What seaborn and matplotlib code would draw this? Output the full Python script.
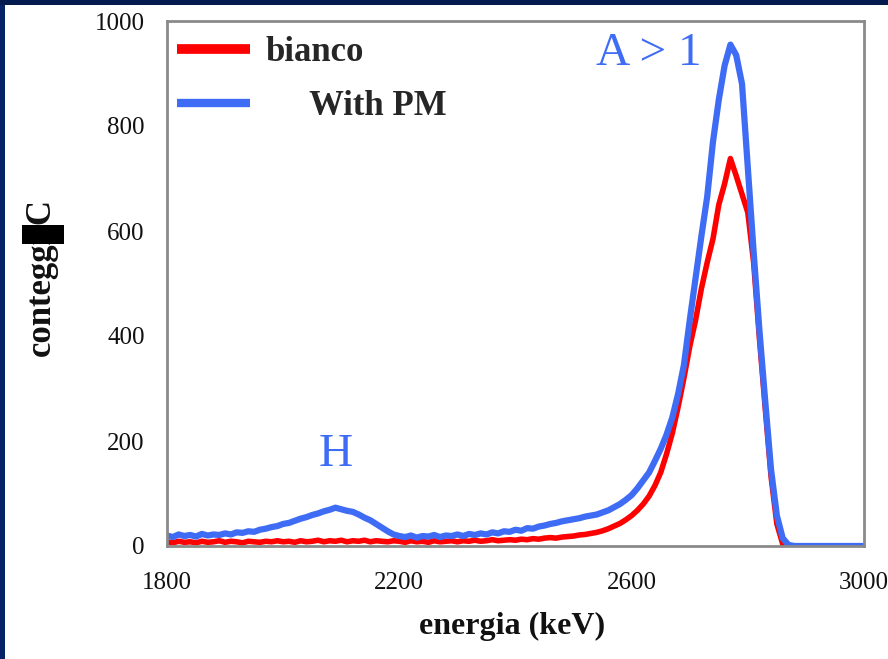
import matplotlib
matplotlib.use("Agg")
import matplotlib.pyplot as plt
import matplotlib.patches as mpatches
from matplotlib.lines import Line2D
import seaborn as sns
import pandas as pd

energia = [1800, 1810, 1820, 1830, 1840, 1850, 1860, 1870, 1880, 1890,
           1900, 1910, 1920, 1930, 1940, 1950, 1960, 1970, 1980, 1990,
           2000, 2010, 2020, 2030, 2040, 2050, 2060, 2070, 2080, 2090,
           2100, 2110, 2120, 2130, 2140, 2150, 2160, 2170, 2180, 2190,
           2200, 2210, 2220, 2230, 2240, 2250, 2260, 2270, 2280, 2290,
           2300, 2310, 2320, 2330, 2340, 2350, 2360, 2370, 2380, 2390,
           2400, 2410, 2420, 2430, 2440, 2450, 2460, 2470, 2480, 2490,
           2500, 2510, 2520, 2530, 2540, 2550, 2560, 2570, 2580, 2590,
           2600, 2610, 2620, 2630, 2640, 2650, 2660, 2670, 2680, 2690,
           2700, 2710, 2720, 2730, 2740, 2750, 2760, 2770, 2780, 2790,
           2800, 2810, 2820, 2830, 2840, 2850, 2860, 2870, 2880, 2890,
           2900, 2910, 2920, 2930, 2940, 2950, 2960, 2970, 2980, 2990,
           3000]

bianco = [8, 6, 9, 7, 8, 6, 9, 7, 8, 10,
          7, 9, 8, 6, 9, 8, 7, 9, 8, 10,
          8, 9, 7, 10, 8, 9, 11, 8, 10, 9,
          11, 8, 10, 9, 11, 8, 10, 9, 8, 10,
          9, 7, 10, 8, 9, 7, 10, 8, 9, 10,
          8, 10, 9, 11, 9, 10, 12, 10, 11, 12,
          11, 13, 12, 14, 13, 15, 16, 15, 17, 18,
          19, 21, 22, 24, 26, 29, 33, 38, 43, 50,
          58, 68, 80, 95, 115, 140, 175, 215, 265, 320,
          380, 430, 490, 540, 585, 650, 690, 738, 705, 670,
          635, 540, 395, 262, 132, 42, 4, 0, 0, 0,
          0, 0, 0, 0, 0, 0, 0, 0, 0, 0,
          0]

with_pm = [20, 17, 22, 19, 21, 18, 23, 20, 22, 21,
           24, 22, 26, 25, 28, 27, 31, 33, 36, 38,
           42, 44, 48, 52, 55, 59, 62, 66, 69, 73,
           70, 67, 65, 60, 54, 49, 42, 35, 28, 22,
           19, 17, 20, 16, 19, 18, 21, 17, 20, 19,
           22, 19, 23, 21, 24, 22, 26, 24, 28, 27,
           31, 29, 34, 33, 37, 39, 42, 44, 47, 49,
           51, 53, 56, 58, 60, 64, 68, 74, 80, 88,
           97, 110, 125, 140, 162, 185, 212, 245, 290, 345,
           430, 510, 590, 665, 770, 850, 915, 955, 935, 880,
           720, 560, 410, 275, 145, 58, 15, 2, 0, 0,
           0, 0, 0, 0, 0, 0, 0, 0, 0, 0,
           0]

serie_labels = ["bianco", "     With PM"]
colori = ["#ff0000", "#3f6cf5"]
x_ticks_lab = ["1800", "", "2200", "", "2600", "", "3000"]
y_ticks_lab = ["0", "", "200", "", "400", "", "600", "", "800", "", "1000"]

df = pd.DataFrame({
    "energia": energia * 2,
    "conteggi": bianco + with_pm,
    "serie": [serie_labels[0]] * len(energia) + [serie_labels[1]] * len(energia),
})

sns.set_theme(style="white")
plt.rcParams["font.family"] = ["Liberation Serif", "DejaVu Serif"]

fig = plt.figure(figsize=(8.88, 6.59), dpi=100)
fig.patch.set_facecolor("white")
# navy frame strips (left and top)
fig.patches.append(mpatches.Rectangle((0, 0), 5 / 888, 1, transform=fig.transFigure,
                                      facecolor="#062366", edgecolor="none", zorder=0))
fig.patches.append(mpatches.Rectangle((0, 1 - 5 / 659), 1, 5 / 659, transform=fig.transFigure,
                                      facecolor="#031b4e", edgecolor="none", zorder=0))

ax = fig.add_axes([167 / 888, (659 - 546) / 659, 697 / 888, 525 / 659])
sns.lineplot(data=df, x="energia", y="conteggi", hue="serie",
             palette=dict(zip(serie_labels, colori)), linewidth=4.5,
             ax=ax, legend=False, estimator=None, sort=False)
ax.get_lines()[0].set_linewidth(4)

ax.set_xlim(1800, 3000)
ax.set_ylim(0, 1000)
ax.set_xticks(list(range(1800, 3001, 200)))
ax.set_xticklabels(x_ticks_lab)
ax.set_yticks(list(range(0, 1001, 100)))
ax.set_yticklabels(y_ticks_lab)
ax.tick_params(axis="both", direction="out", length=7, width=1.5, color="black",
               labelsize=18, labelcolor="#111111")
ax.tick_params(axis="x", pad=12)
ax.tick_params(axis="y", pad=9)
for s in ax.spines.values():
    s.set_color("#8a8a8a")
    s.set_linewidth(2)
ax.grid(False)

ax.set_xlabel("energia (keV)", fontsize=23, fontweight="bold", color="#111111")
ax.xaxis.set_label_coords(0.495, -0.126)
ax.set_ylabel("conteggi/C", fontsize=25, fontweight="bold", color="#111111")
ax.yaxis.set_label_coords(-0.156, 0.512)

# black block over part of the y label
fig.patches.append(mpatches.Rectangle((22 / 888, 1 - 244 / 659), 42 / 888, 19 / 659,
                                      transform=fig.transFigure, facecolor="black",
                                      edgecolor="none", zorder=5))

handles = [Line2D([], [], color=colori[0], linewidth=7, solid_capstyle="butt"),
           Line2D([], [], color=colori[1], linewidth=6, solid_capstyle="butt")]
leg = ax.legend(handles, serie_labels, loc="upper left",
                bbox_to_anchor=(10 / 697, 1 - 15 / 525),
                frameon=False, prop={"size": 25, "weight": "bold"},
                handlelength=2.1, handletextpad=0.45, labelspacing=0.6,
                borderaxespad=0, borderpad=0)

ax.text(2091, 173, "H", color="#3f6cf5", fontsize=34, ha="center", va="center")
ax.text(2630, 938, "A > 1", color="#3f6cf5", fontsize=34, ha="center", va="center")

fig.savefig("out.png", dpi=100, facecolor=fig.get_facecolor())
